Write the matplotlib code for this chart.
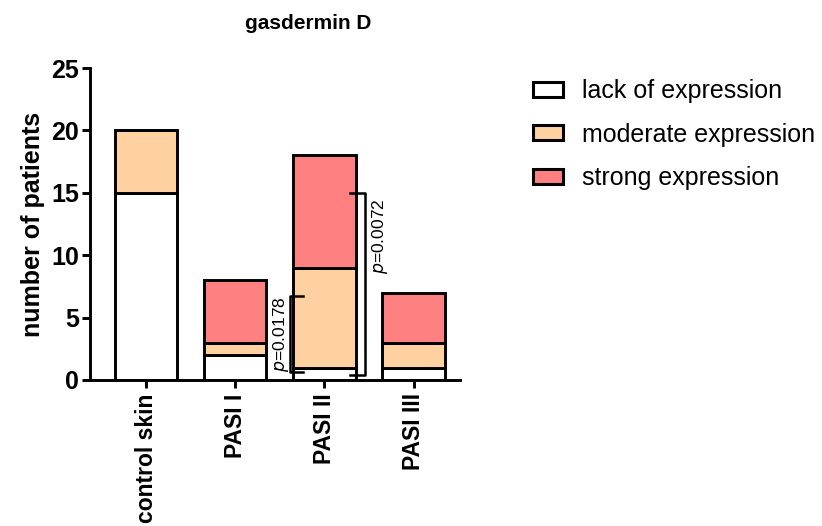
import matplotlib
matplotlib.use("Agg")
import matplotlib.pyplot as plt
import numpy as np

categories = ["control skin", "PASI I", "PASI II", "PASI III"]
lack = [15, 2, 1, 1]
moderate = [5, 1, 8, 2]
strong = [0, 5, 9, 4]
series_names = ["lack of expression", "moderate expression", "strong expression"]
colors = ["#FFFFFF", "#FFD0A0", "#FF8080"]
yticks = [0, 5, 10, 15, 20, 25]
p_labels = ["p=0.0178", "p=0.0072"]

plt.rcParams['font.family'] = ['Liberation Sans', 'DejaVu Sans']

fig = plt.figure(figsize=(8.22, 5.26), dpi=100)
ax = fig.add_axes([0.1095, 0.2776, 0.45, 0.5931])

x = np.arange(len(categories))
w = 0.7
lw = 2.1
bottom = np.zeros(len(categories))
for vals, name, c in zip([lack, moderate, strong], series_names, colors):
    vals = np.array(vals, dtype=float)
    ax.bar(x, vals, w, bottom=bottom, color=c, edgecolor="black", linewidth=lw, label=name, zorder=2)
    bottom += vals

ax.set_xlim(-0.63, 3.52)
ax.set_ylim(0, 25)
ax.set_yticks(yticks)
ax.set_xticks(x)
ax.set_xticklabels(categories, rotation=90, fontsize=16.5, fontweight="bold")
ax.tick_params(axis="y", labelsize=18, width=lw, length=6, direction="out", pad=2)
ax.tick_params(axis="x", width=lw, length=6, direction="out")
for lab in ax.get_yticklabels():
    lab.set_fontweight("bold")
for s in ["top", "right"]:
    ax.spines[s].set_visible(False)
for s in ["left", "bottom"]:
    ax.spines[s].set_linewidth(lw)
ax.set_ylabel("number of patients", fontsize=18, fontweight="bold", labelpad=4)

# significance brackets
blw = 1.8
# p=0.0178
ax.plot([1.76, 1.61, 1.61, 1.76], [6.7, 6.7, 0.6, 0.6], color="black", lw=blw, clip_on=False, zorder=3)
ax.text(1.51, 3.7, r"$p$=0.0178", rotation=90, ha="center", va="center", fontsize=12.5)
# p=0.0072
ax.plot([2.29, 2.46, 2.46, 2.29], [15, 15, 0.4, 0.4], color="black", lw=blw, clip_on=False, zorder=3)
ax.text(2.62, 11.5, r"$p$=0.0072", rotation=90, ha="center", va="center", fontsize=12.5)

fig.text(0.375, 0.955, "gasdermin D", ha="center", va="center", fontsize=15, fontweight="bold")

leg = ax.legend(loc="upper left", bbox_to_anchor=(0.621, 0.892), bbox_transform=fig.transFigure,
                frameon=False, fontsize=18, handlelength=1.2, handleheight=0.55,
                labelspacing=0.78, handletextpad=0.75)
for h in leg.legend_handles:
    h.set_linewidth(2.2)

fig.savefig("out.png", dpi=100)
